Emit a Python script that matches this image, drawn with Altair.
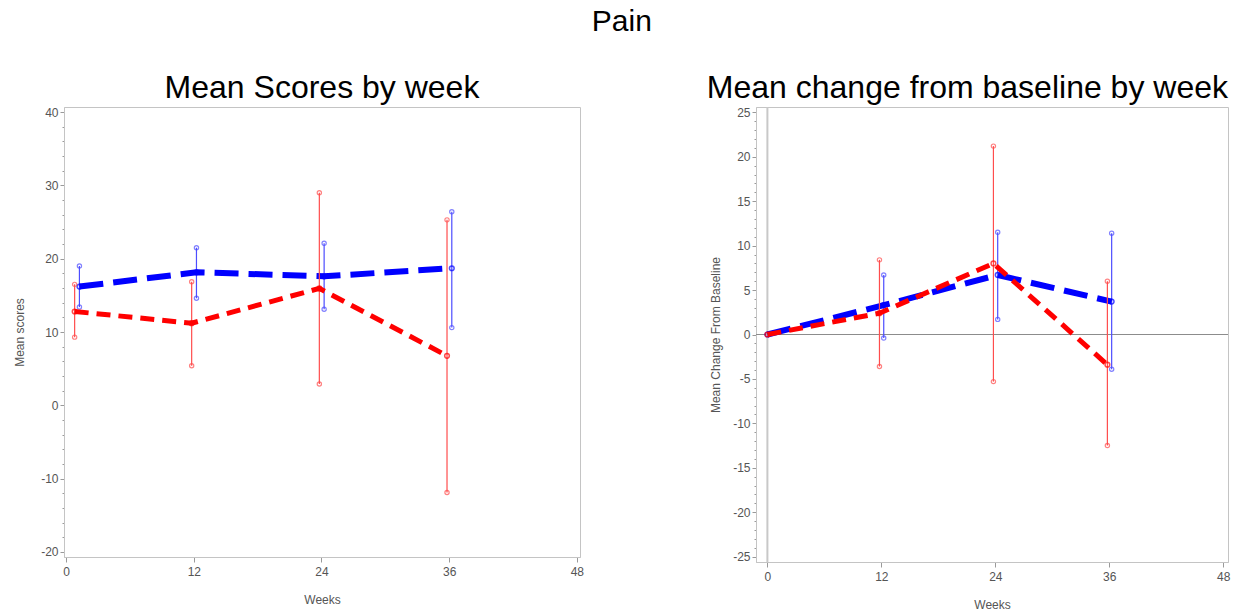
import altair as alt
import pandas as pd

# ---------------- data ----------------
weeks_scores = [1, 12, 24, 36]        # baseline drawn near week 1 in left panel
weeks_change = [0, 12, 24, 36]
red_offset = -0.2
blue_offset = 0.25

red_mean = [12.8, 11.2, 15.95, 6.75]
red_lo = [9.3, 5.4, 2.9, -11.9]
red_hi = [16.5, 16.85, 29.0, 25.3]
blue_mean = [16.2, 18.15, 17.6, 18.7]
blue_lo = [13.4, 14.6, 13.1, 10.6]
blue_hi = [19.0, 21.5, 22.1, 26.4]

red_chg = [0.0, 2.4, 8.0, -3.4]
red_chg_lo = [None, -3.6, -5.3, -12.5]
red_chg_hi = [None, 8.4, 21.2, 6.0]
blue_chg = [0.0, 3.3, 6.7, 3.7]
blue_chg_lo = [None, -0.4, 1.7, -3.9]
blue_chg_hi = [None, 6.7, 11.5, 11.4]

x_ticks = [0, 12, 24, 36, 48]
y_ticks_scores = list(range(-20, 42, 2))
y_ticks_change = list(range(-25, 26, 1))

RED = "#ff0000"
BLUE = "#0000ff"
RED_BAR = "#ff4d4d"
BLUE_BAR = "#4d4dff"
GRAY_TXT = "#555555"
FRAME = "#c4c4c4"
FONT = "Liberation Sans"


def frame_df(weeks, mean, lo, hi, offset, group):
    rows = []
    for w, m, l, h in zip(weeks, mean, lo, hi):
        rows.append({"x": w + (offset if w > 0 else 0), "mean": m, "lo": l, "hi": h, "g": group})
    return pd.DataFrame(rows)


def panel(red_df, blue_df, xdom, ydom, yvals, major, ytitle, tpad, width, height, title, anchor, refs):
    xs = alt.Scale(domain=xdom, nice=False, zero=False)
    ys = alt.Scale(domain=ydom, nice=False, zero=False)
    xaxis = alt.Axis(values=x_ticks, title="Weeks", grid=False, tickSize=5, labelPadding=4,
                     titlePadding=17, labelExpr="toString(datum.value)")
    yaxis = alt.Axis(values=yvals, title=ytitle, grid=False,
                     labelExpr=f"datum.value % {major} === 0 ? toString(datum.value) : ''",
                     tickSize={"condition": {"test": f"datum.value % {major} === 0", "value": 4}, "value": 2},
                     labelPadding=2, titlePadding=tpad)
    layers = []
    if refs:
        zero_df = pd.DataFrame({"v": [0]})
        layers.append(alt.Chart(zero_df).mark_rule(color="#8c8c8c", strokeWidth=1).encode(
            y=alt.Y("v:Q", scale=ys, axis=yaxis)))
        layers.append(alt.Chart(zero_df).mark_rule(color="#c8c8c8", strokeWidth=2).encode(
            x=alt.X("v:Q", scale=xs, axis=xaxis)))
    for df, col, barcol, dash, sw in [(blue_df, BLUE, BLUE_BAR, [24, 10], 6),
                                       (red_df, RED, RED_BAR, [14, 8], 5)]:
        base = alt.Chart(df)
        bars = df.dropna()
        layers.append(alt.Chart(bars).mark_rule(color=barcol, strokeWidth=1.2).encode(
            x=alt.X("x:Q", scale=xs, axis=xaxis), y=alt.Y("lo:Q", scale=ys, axis=yaxis), y2="hi:Q"))
        for fld in ["lo", "hi"]:
            layers.append(alt.Chart(bars).mark_point(shape="circle", filled=False, size=18,
                                                     color=barcol, strokeWidth=1.2).encode(
                x=alt.X("x:Q", scale=xs, axis=xaxis), y=alt.Y(f"{fld}:Q", scale=ys, axis=yaxis)))
        layers.append(base.mark_line(color=col, strokeWidth=sw, strokeDash=dash).encode(
            x=alt.X("x:Q", scale=xs, axis=xaxis), y=alt.Y("mean:Q", scale=ys, axis=yaxis)))
        layers.append(base.mark_point(shape="circle", filled=False, size=22, color=col,
                                      strokeWidth=1.5).encode(
            x=alt.X("x:Q", scale=xs, axis=xaxis), y=alt.Y("mean:Q", scale=ys, axis=yaxis)))
    return alt.layer(*layers).properties(
        width=width, height=height,
        title=alt.TitleParams(title, fontSize=32, font=FONT, fontWeight="normal", color="black",
                              anchor=anchor, frame="group", offset=1))


left = panel(frame_df(weeks_scores, red_mean, red_lo, red_hi, red_offset, "red"),
             frame_df(weeks_scores, blue_mean, blue_lo, blue_hi, blue_offset, "blue"),
             [-0.2, 48.3], [-20.7, 40.7], y_ticks_scores, 10, "Mean scores", 14, 516, 450,
             "Mean Scores by week", "middle", False)
right = panel(frame_df(weeks_change, red_chg, red_chg_lo, red_chg_hi, red_offset, "red"),
              frame_df(weeks_change, blue_chg, blue_chg_lo, blue_chg_hi, blue_offset, "blue"),
              [-1.2, 48.5], [-25.6, 25.6], y_ticks_change, 5, "Mean Change From Baseline", 10, 472, 455,
              "Mean change from baseline by week", "end", True)

chart = alt.hconcat(left, right, spacing=122).properties(
    title=alt.TitleParams("Pain", fontSize=30, font=FONT, fontWeight="normal", color="black",
                          anchor="middle", offset=35),
    padding={"left": 13, "top": 6, "right": 5, "bottom": 5},
).configure_view(stroke=FRAME, strokeWidth=1).configure_axis(
    labelFont=FONT, titleFont=FONT, labelFontSize=12, titleFontSize=12,
    labelColor=GRAY_TXT, titleColor=GRAY_TXT, titleFontWeight="normal",
    domainColor=FRAME, tickColor="#9a9a9a",
)

chart.save("out.html", embed_options={"renderer": "svg", "actions": False})
